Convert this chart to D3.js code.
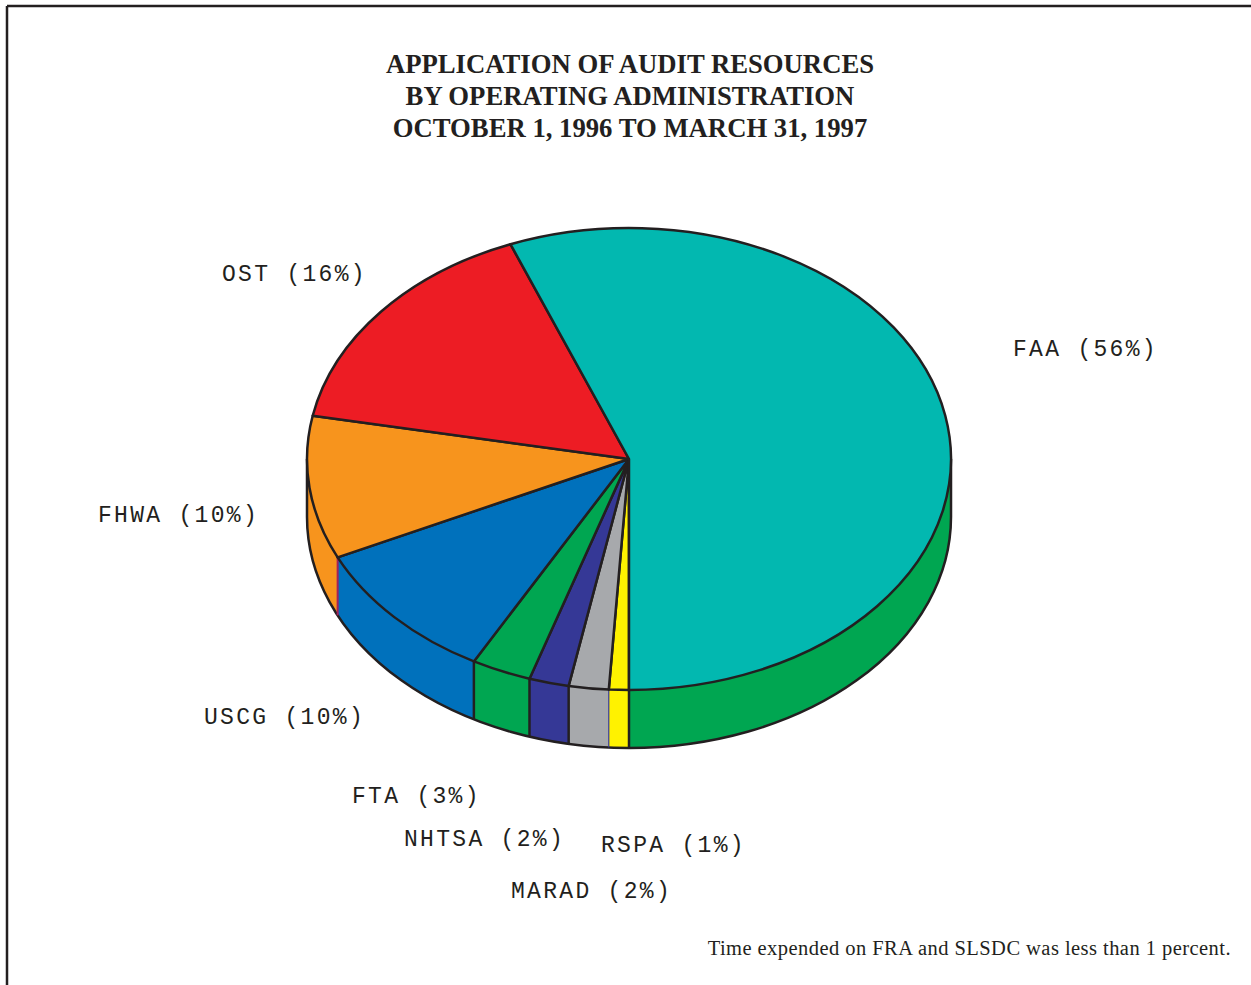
<!DOCTYPE html>
<html lang="en">
<head>
  <meta charset="UTF-8">
  <title>Application of Audit Resources</title>
  <script src="https://d3js.org/d3.v7.min.js"></script>
  <style>
    body { margin: 0; background: #fff; }
    .title { font-family: "Liberation Serif", "Times New Roman", serif; font-weight: bold; font-size: 26.7px; fill: #231f20; }
    .lbl { font-family: "Liberation Mono", "Courier New", monospace; font-size: 23px; letter-spacing: 2.3px; fill: #231f20; }
    .note { font-family: "Liberation Serif", "Times New Roman", serif; font-size: 20.5px; letter-spacing: 0.45px; fill: #231f20; }
  </style>
</head>
<body>
  <svg id="chart" width="1251" height="985"></svg>
  <script>
    // slices in drawing order, starting at 6 o'clock and going clockwise
    const names = ["RSPA", "MARAD", "NHTSA", "FTA", "USCG", "FHWA", "OST", "FAA"];
    const values = [1, 2, 2, 3, 10, 10, 16, 56];
    const topColors = ["#fff200", "#a7a9ac", "#353896", "#00a651", "#0071bc", "#f7941d", "#ed1c24", "#02b8b0"];
    const sideColors = ["#fff200", "#a7a9ac", "#353896", "#00a651", "#0071bc", "#f7941d", "#ed1c24", "#00a651"];
    const titleLines = [
      "APPLICATION OF AUDIT RESOURCES",
      "BY OPERATING ADMINISTRATION",
      "OCTOBER 1, 1996 TO MARCH 31, 1997"
    ];
    const footnote = "Time expended on FRA and SLSDC was less than 1 percent.";

    // label anchor points (left x, baseline y)
    const labelPos = {
      RSPA: [601, 852], MARAD: [511, 898], NHTSA: [404, 846], FTA: [352, 803],
      USCG: [204, 724], FHWA: [98, 522], OST: [222, 281], FAA: [1013, 356]
    };

    const svg = d3.select("#chart");
    const ink = "#231f20";
    const cx = 629, cy = 459, rx = 322, ry = 231, depth = 58;

    // frame (top and left rules)
    svg.append("line").attr("x1", 7).attr("y1", 6).attr("x2", 1251).attr("y2", 6)
      .attr("stroke", ink).attr("stroke-width", 2.5);
    svg.append("line").attr("x1", 7).attr("y1", 6).attr("x2", 7).attr("y2", 985)
      .attr("stroke", ink).attr("stroke-width", 2.5);

    // title
    svg.selectAll(".title").data(titleLines).enter().append("text")
      .attr("class", "title")
      .attr("x", 630)
      .attr("y", (d, i) => 73 + i * 32)
      .attr("text-anchor", "middle")
      .text(d => d);

    const pie = d3.pie().sort(null).value(d => d).startAngle(Math.PI).endAngle(3 * Math.PI);
    const arcs = pie(values);

    const pt = (a, dy) => [cx + rx * Math.sin(a), cy - ry * Math.cos(a) + (dy || 0)];

    // visible (front) parts of the outer wall
    const front = [[Math.PI, 1.5 * Math.PI], [2.5 * Math.PI, 3 * Math.PI]];
    const walls = [];
    arcs.forEach((d, i) => {
      front.forEach(([f0, f1]) => {
        const a0 = Math.max(d.startAngle, f0), a1 = Math.min(d.endAngle, f1);
        if (a1 > a0) walls.push({ a0, a1, i });
      });
    });

    const wallPath = w => {
      const t0 = pt(w.a0), t1 = pt(w.a1), b1 = pt(w.a1, depth), b0 = pt(w.a0, depth);
      return `M${t0}A${rx},${ry} 0 0 1 ${t1}L${b1}A${rx},${ry} 0 0 0 ${b0}Z`;
    };

    svg.append("g").selectAll("path").data(walls).enter().append("path")
      .attr("d", wallPath)
      .attr("fill", w => sideColors[w.i])
      .attr("stroke", "none");

    // wall outline: bottom rim and outer edges
    svg.append("path")
      .attr("d", `M${pt(Math.PI * 1.5)}L${pt(Math.PI * 1.5, depth)}A${rx},${ry} 0 0 0 ${pt(Math.PI, depth)}A${rx},${ry} 0 0 0 ${pt(Math.PI * 2.5, depth)}L${pt(Math.PI * 2.5)}`)
      .attr("fill", "none").attr("stroke", ink).attr("stroke-width", 2.5);

    // vertical seams between slices on the wall
    const seamColor = ["#231f20", "#353896", "#231f20", "#231f20", "#231f20", "#a3215a", "#231f20", "#231f20"];
    const seamWidth = [2.5, 1.2, 2.5, 2.5, 2.5, 2, 2.5, 2.5];
    const seams = arcs.map((d, i) => ({ a: d.startAngle, i }))
      .filter(s => front.some(([f0, f1]) => s.a >= f0 && s.a < f1));
    svg.append("g").selectAll("line").data(seams).enter().append("line")
      .attr("x1", s => pt(s.a)[0]).attr("y1", s => pt(s.a)[1])
      .attr("x2", s => pt(s.a)[0]).attr("y2", s => pt(s.a, depth)[1])
      .attr("stroke", s => seamColor[s.i])
      .attr("stroke-width", s => seamWidth[s.i]);

    // top face: circular arcs squashed into the ellipse
    const arc = d3.arc().innerRadius(0).outerRadius(rx);
    svg.append("g")
      .attr("transform", `translate(${cx},${cy}) scale(1,${ry / rx})`)
      .selectAll("path").data(arcs).enter().append("path")
      .attr("d", arc)
      .attr("fill", (d, i) => topColors[i])
      .attr("stroke", ink)
      .attr("stroke-width", 2.5)
      .attr("stroke-linejoin", "round")
      .attr("vector-effect", "non-scaling-stroke");

    // labels
    svg.selectAll(".lbl").data(names).enter().append("text")
      .attr("class", "lbl")
      .attr("x", d => labelPos[d][0])
      .attr("y", d => labelPos[d][1])
      .text((d, i) => `${d} (${values[i]}%)`);

    svg.append("text").attr("class", "note")
      .attr("x", 1231).attr("y", 955).attr("text-anchor", "end")
      .text(footnote);
  </script>
</body>
</html>
